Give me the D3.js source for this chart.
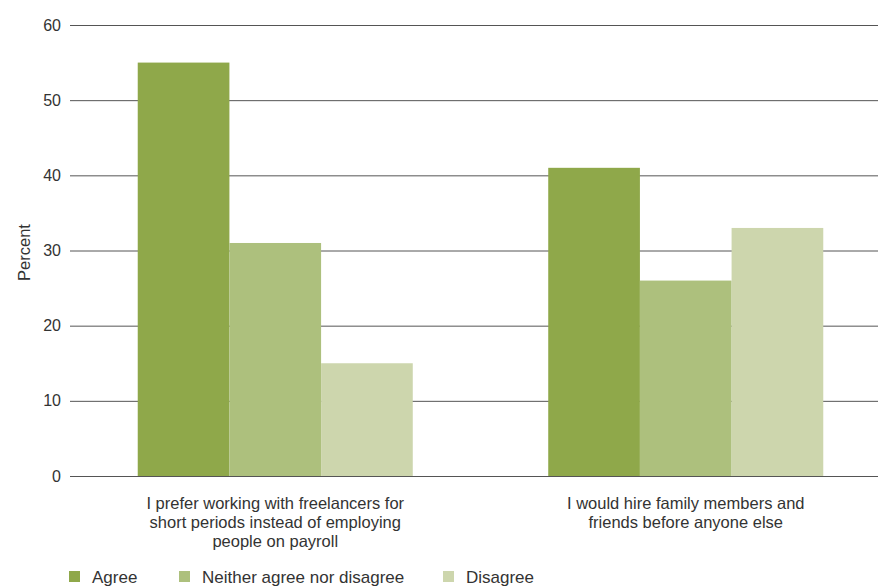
<!DOCTYPE html>
<html>
<head>
<meta charset="utf-8">
<script src="https://cdn.jsdelivr.net/npm/d3@7"></script>
<style>
  body { margin: 0; background: #fff; }
  svg { display: block; font-family: 'Liberation Sans', Arial, sans-serif; }
</style>
</head>
<body>
<svg id="chart" width="878" height="587"></svg>
<script>
const categories = [
  ['I prefer working with freelancers for', 'short periods instead of employing', 'people on payroll'],
  ['I would hire family members and', 'friends before anyone else'],
];
const seriesNames = ['Agree', 'Neither agree nor disagree', 'Disagree'];
const agree = [55, 41];
const neither = [31, 26];
const disagree = [15, 33];
const yTicks = [0, 10, 20, 30, 40, 50, 60];
const colors = ['#8fa84a', '#adc07d', '#cdd6ad'];

const series = [agree, neither, disagree];
const svg = d3.select('#chart');
const width = 878;
const margin = { top: 25, left: 70 };
const plotBottom = 476;

const yScale = d3.scaleLinear().domain([0, 60]).range([plotBottom, margin.top]);

const x0 = d3.scaleBand()
  .domain(d3.range(categories.length))
  .range([margin.left, 891])
  .paddingInner(0.33)
  .paddingOuter(0.165);

const x1 = d3.scaleBand()
  .domain(d3.range(seriesNames.length))
  .range([0, x0.bandwidth()]);

// gridlines + tick labels
const yAxis = svg.append('g')
  .attr('transform', `translate(${margin.left},0)`)
  .call(d3.axisLeft(yScale).tickValues(yTicks).tickSize(-(width - margin.left)).tickPadding(9));
yAxis.select('.domain').remove();
yAxis.selectAll('.tick line').attr('stroke', '#555').attr('stroke-width', 1);
yAxis.selectAll('.tick text')
  .attr('fill', '#333')
  .style('font-size', '16px');

svg.append('text')
  .attr('transform', `translate(30,${(margin.top + plotBottom) / 2 + 2}) rotate(-90)`)
  .attr('text-anchor', 'middle')
  .attr('fill', '#333')
  .style('font-size', '16.5px')
  .text('Percent');

// bars
const groups = svg.append('g')
  .selectAll('g')
  .data(categories)
  .enter()
  .append('g')
  .attr('transform', (d, i) => `translate(${x0(i)},0)`);

groups.selectAll('rect')
  .data((d, i) => series.map((s, j) => ({ j, v: s[i] })))
  .enter()
  .append('rect')
  .attr('x', d => x1(d.j))
  .attr('y', d => yScale(d.v))
  .attr('width', x1.bandwidth())
  .attr('height', d => plotBottom - yScale(d.v))
  .attr('fill', d => colors[d.j]);

// redraw zero line on top of bars
svg.append('line')
  .attr('x1', margin.left)
  .attr('x2', width)
  .attr('y1', yScale(0) + 0.5)
  .attr('y2', yScale(0) + 0.5)
  .attr('stroke', '#555');

// category labels
const catLabels = svg.append('g')
  .selectAll('text')
  .data(categories)
  .enter()
  .append('text')
  .attr('text-anchor', 'middle')
  .attr('fill', '#333')
  .style('font-size', '16.5px')
  .attr('x', (d, i) => x0(i) + x0.bandwidth() / 2)
  .attr('y', 509);

catLabels.selectAll('tspan')
  .data(d => d)
  .enter()
  .append('tspan')
  .attr('x', function() { return d3.select(this.parentNode).attr('x'); })
  .attr('dy', (d, i) => (i === 0 ? 0 : 19))
  .text(d => d);

// legend
const legendX = [69, 179, 443];
const legend = svg.append('g')
  .selectAll('g')
  .data(seriesNames)
  .enter()
  .append('g')
  .attr('transform', (d, i) => `translate(${legendX[i]},571)`);

legend.append('rect')
  .attr('width', 11)
  .attr('height', 11)
  .attr('fill', (d, i) => colors[i]);

legend.append('text')
  .attr('x', 23)
  .attr('y', 12)
  .attr('fill', '#333')
  .style('font-size', '17px')
  .text(d => d);
</script>
</body>
</html>
